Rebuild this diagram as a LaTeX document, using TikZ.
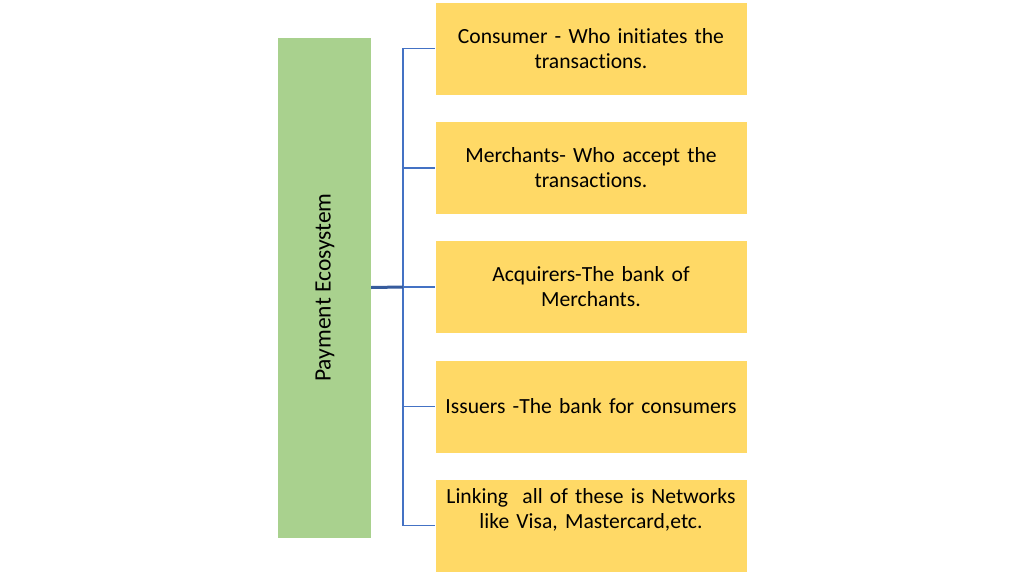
\documentclass[tikz,border=0pt]{standalone}
\usepackage{fontspec}
\setmainfont{Carlito}[Ligatures=NoCommon]
\usepackage{tikz}

\definecolor{ecogreen}{HTML}{A9D18E}
\definecolor{partyellow}{HTML}{FFD966}
\definecolor{linkblue}{HTML}{4472C4}

\begin{document}
\begin{tikzpicture}[x=1pt,y=-1pt,
    ecobox/.style={fill=ecogreen,draw=white,minimum width=94pt,minimum height=501pt,inner sep=0pt},
    partbox/.style={fill=partyellow,draw=white,minimum width=312pt,minimum height=93pt,inner sep=0pt,text width=310pt,align=center,font=\fontsize{21.6}{25}\selectfont},
    branch/.style={linkblue,line width=1.4pt},
    trunk/.style={linkblue!80!black,line width=3pt}]
        \useasboundingbox (0,0) rectangle (1024,575);
        \node[ecobox] (eco) at (324,287.5) {};
        \node[rotate=90,font=\fontsize{23.5}{28}\selectfont] (ecotext) at (325,287.5) {Payment Ecosystem};
        \node[partbox] (consumer) at (591,48.5) {Consumer - Who initiates the\\transactions.};
        \node[partbox] (merchant) at (591,168) {Merchants- Who accept the\\transactions.};
        \node[partbox] (acquirer) at (591,287) {Acquirers-The bank of\\Merchants.};
        \node[partbox] (issuer) at (591,406.5) {Issuers -The bank for consumers};
        \node[partbox] (network) at (591,525.5) {Linking\ \ all of these is Networks\\like Visa, Mastercard,etc.\\[9pt]\mbox{}};
        \coordinate (hub) at (403,287);
        \draw[branch] (hub) |- (consumer.west);
        \draw[branch] (hub) |- (merchant.west);
        \draw[branch] (hub) |- (acquirer.west);
        \draw[branch] (hub) |- (issuer.west);
        \draw[branch] (hub) |- (network.west);
        \draw[trunk] (eco.east) -- (hub);
      \end{tikzpicture}
\end{document}
